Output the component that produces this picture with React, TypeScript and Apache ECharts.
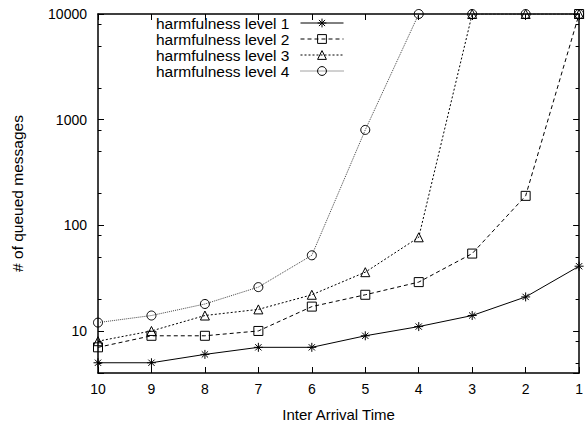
import React, { useEffect, useRef } from "react";
import * as echarts from "echarts";

const xValues = [10, 9, 8, 7, 6, 5, 4, 3, 2, 1];
const level1 = [5, 5, 6, 7, 7, 9, 11, 14, 21, 41];
const level2 = [7, 9, 9, 10, 17, 22, 29, 54, 190, 10000];
const level3 = [8, 10, 14, 16, 22, 36, 77, 10000, 10000, 10000];
const level4 = [12, 14, 18, 26, 52, 800, 10000, 10000, 10000, 10000];
const seriesNames = [
  "harmfulness level 1",
  "harmfulness level 2",
  "harmfulness level 3",
  "harmfulness level 4",
];
const majorTickLabels = [10, 100, 1000, 10000];
const minorTickValues = [5, 8, 20, 50, 80, 200, 500, 800, 2000, 5000, 8000];

const FONT = "'Liberation Sans', Arial, Helvetica, sans-serif";
const ASTERISK = "path://M0,5L10,5M5,0L5,10M1.5,1.5L8.5,8.5M8.5,1.5L1.5,8.5";

function pairs(ys: number[]) {
  return xValues.map((x, i) => [x, ys[i]]);
}

export default function App() {
  const ref = useRef<HTMLDivElement>(null);
  useEffect(() => {
    document.body.style.margin = "0";
    if (!ref.current) return;
    const chart = echarts.init(ref.current, undefined, { renderer: "svg" });
    const axisLine = { show: true, lineStyle: { color: "#000", width: 1.5 } };
    const yBase = { type: "log", min: 4, max: 10000, logBase: 10, gridIndex: 0 } as any;
    const xBase = { type: "value", min: 1, max: 10, interval: 1, inverse: true, gridIndex: 0 } as any;
    const mk = (
      name: string,
      ys: number[],
      symbol: string,
      lineType: any,
      lineColor: string
    ) => ({
      name,
      type: "line",
      data: pairs(ys),
      xAxisIndex: 0,
      yAxisIndex: 0,
      symbol,
      symbolSize: 9,
      showAllSymbol: true,
      lineStyle: { color: lineColor, width: 1, type: lineType },
      itemStyle: { color: "rgba(0,0,0,0)", borderColor: "#000", borderWidth: 1 },
      emphasis: { disabled: true },
    });
    const minorTick = {
      show: true,
      inside: true,
      length: 3.5,
      customValues: minorTickValues,
      lineStyle: { color: "#000", width: 1 },
    };
    chart.setOption({
      animation: false,
      backgroundColor: "#fff",
      textStyle: { fontFamily: FONT },
      grid: { left: 98, right: 5, top: 14, bottom: 50, containLabel: false },
      legend: {
        orient: "vertical",
        align: "right",
        right: 242,
        top: 15,
        padding: 0,
        itemGap: 0,
        itemWidth: 43,
        itemHeight: 11,
        data: seriesNames,
        lineStyle: { width: 1 },
        itemStyle: { borderWidth: 1 },
        textStyle: {
          fontFamily: FONT,
          fontSize: 15.5,
          color: "#000",
          lineHeight: 15.5,
          padding: [0, 6, 0, 0],
        },
        selectedMode: false,
      },
      xAxis: [
        {
          ...xBase,
          position: "bottom",
          name: "Inter Arrival Time",
          nameLocation: "middle",
          nameGap: 34,
          nameTextStyle: { fontFamily: FONT, fontSize: 15, color: "#000" },
          axisLine,
          axisTick: { show: true, inside: true, length: 6, lineStyle: { color: "#000" } },
          axisLabel: { fontFamily: FONT, fontSize: 14, color: "#000", margin: 9 },
          splitLine: { show: false },
        },
        {
          ...xBase,
          position: "top",
          axisLine,
          axisTick: { show: true, inside: true, length: 6, lineStyle: { color: "#000" } },
          axisLabel: { show: false },
          splitLine: { show: false },
        },
      ],
      yAxis: [
        {
          ...yBase,
          position: "left",
          name: "# of queued messages",
          nameLocation: "middle",
          nameGap: 73,
          nameRotate: 90,
          nameTextStyle: { fontFamily: FONT, fontSize: 15.5, color: "#000" },
          axisLine,
          axisTick: { show: true, inside: true, length: 6, lineStyle: { color: "#000" } },
          axisLabel: {
            fontFamily: FONT,
            fontSize: 14,
            color: "#000",
            margin: 11,
            formatter: (v: number) => {
              const r = Math.round(v);
              return majorTickLabels.includes(r) ? String(r) : "";
            },
          },
          splitLine: { show: false },
        },
        {
          ...yBase,
          position: "right",
          axisLine,
          axisTick: { show: true, inside: true, length: 6, lineStyle: { color: "#000" } },
          axisLabel: { show: false },
          splitLine: { show: false },
        },
        {
          ...yBase,
          position: "left",
          axisLine: { show: false },
          axisTick: minorTick,
          axisLabel: { show: false },
          splitLine: { show: false },
        },
        {
          ...yBase,
          position: "right",
          axisLine: { show: false },
          axisTick: minorTick,
          axisLabel: { show: false },
          splitLine: { show: false },
        },
      ],
      series: [
        mk(seriesNames[0], level1, ASTERISK, "solid", "#000"),
        mk(seriesNames[1], level2, "rect", [4, 3], "#000"),
        mk(seriesNames[2], level3, "triangle", [2, 2], "#000"),
        mk(seriesNames[3], level4, "circle", [1, 1], "#444"),
      ],
    });
    return () => chart.dispose();
  }, []);
  return <div ref={ref} style={{ width: 586, height: 427 }} />;
}
